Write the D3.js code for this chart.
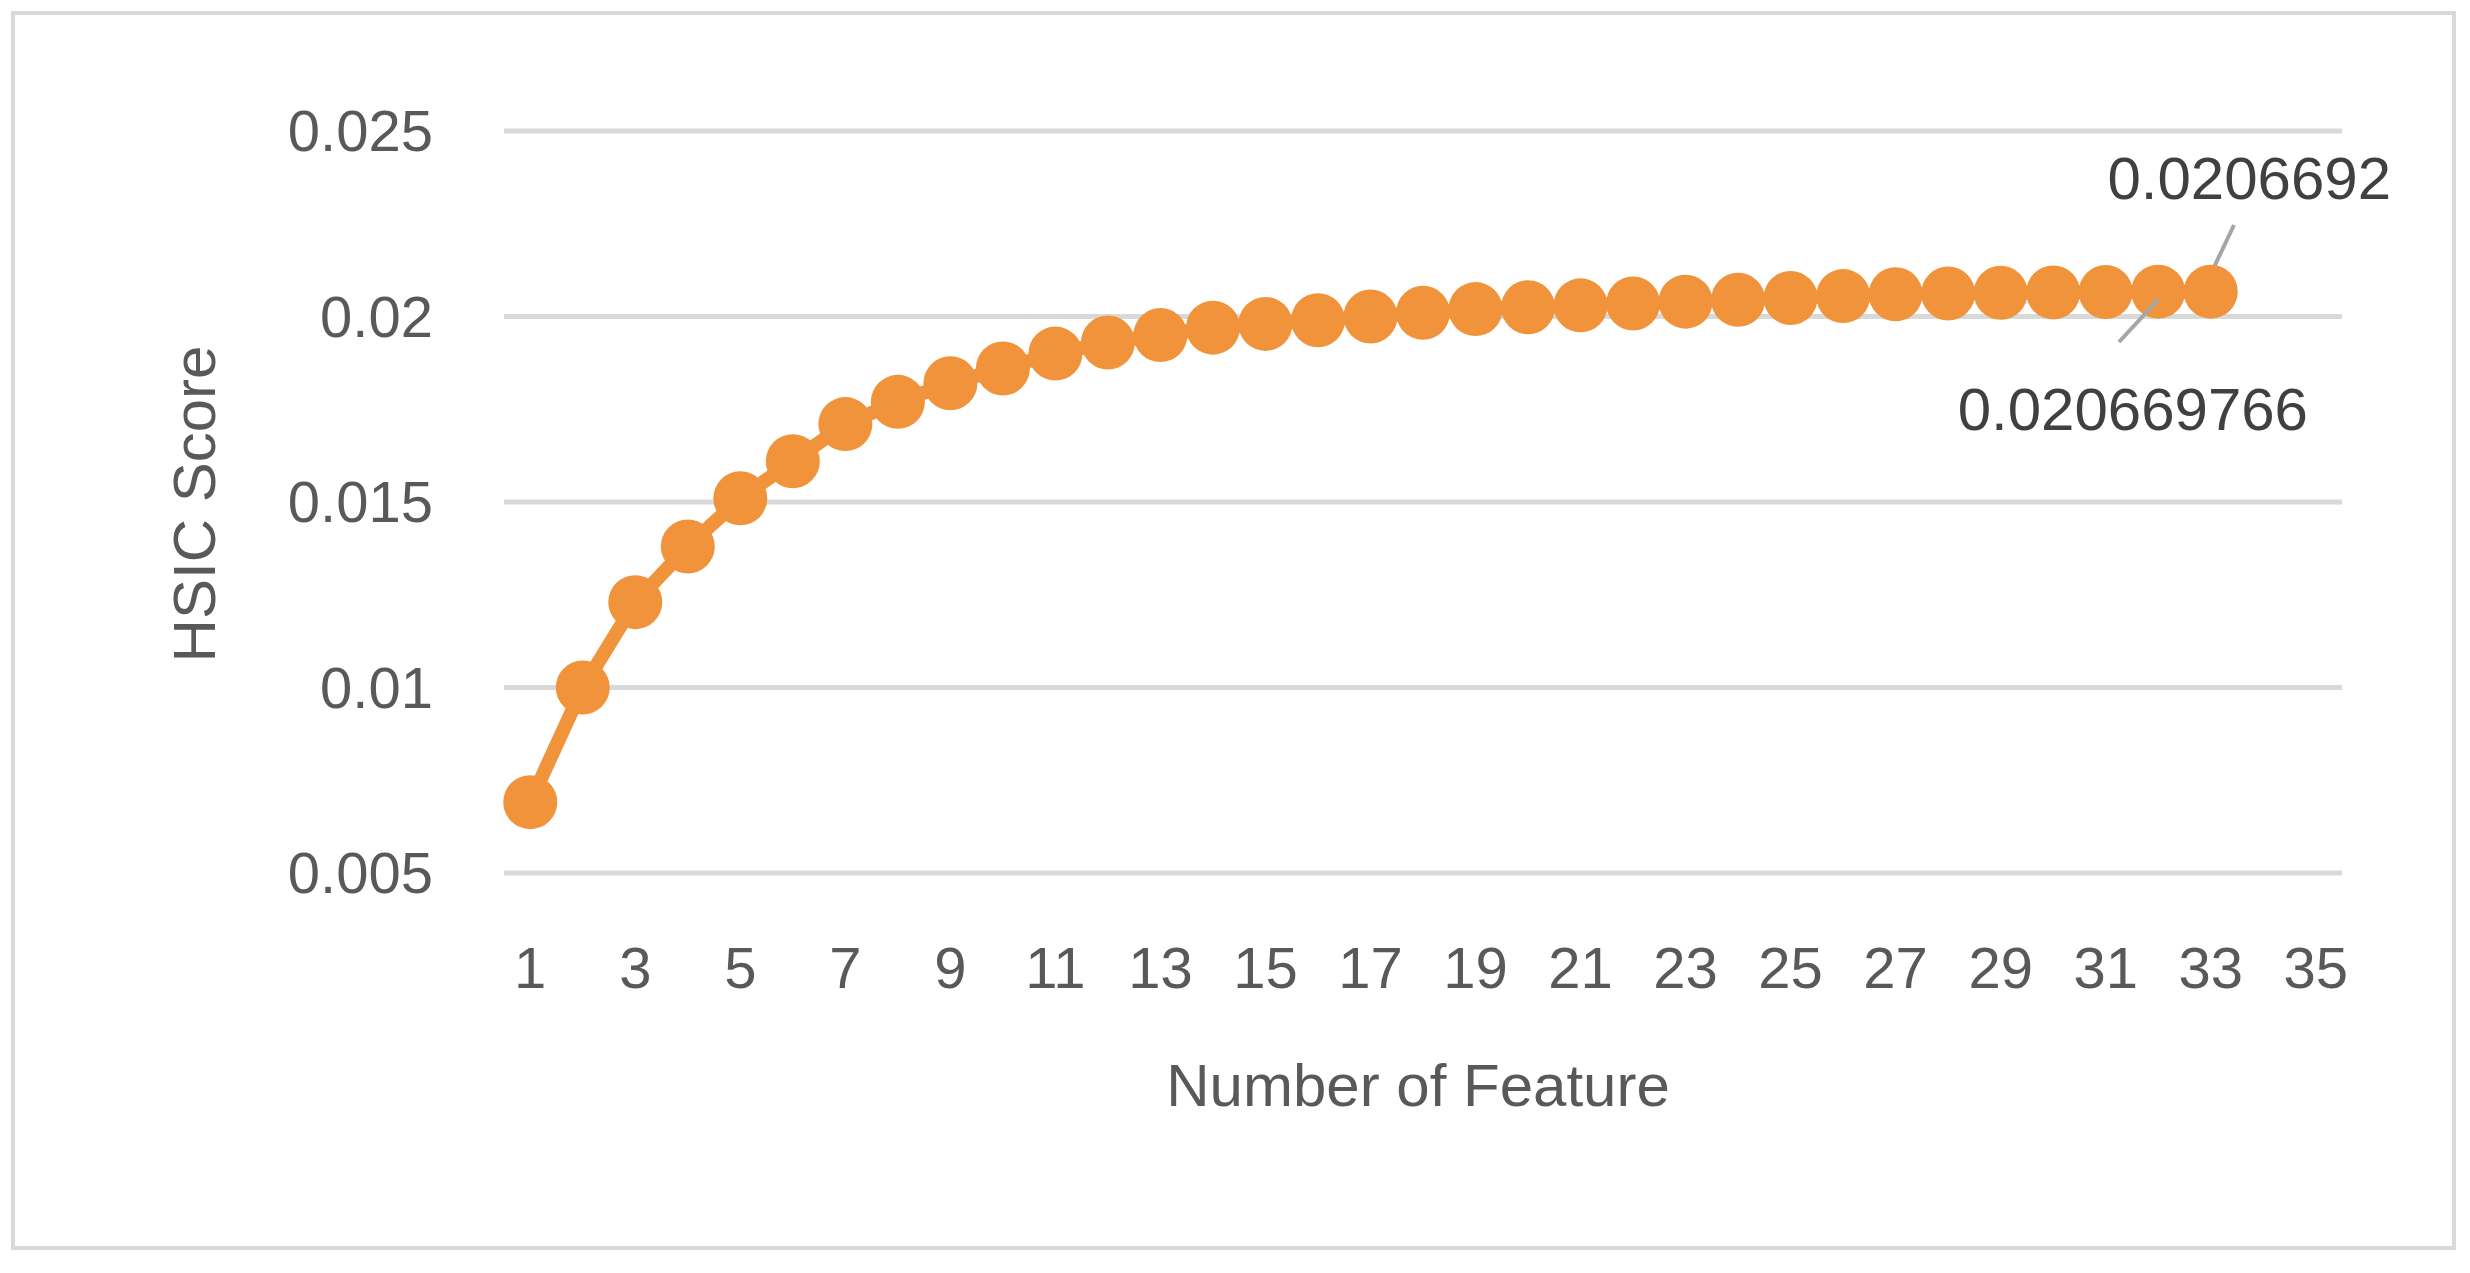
<!DOCTYPE html>
<html><head><meta charset="utf-8">
<script src="https://cdn.jsdelivr.net/npm/d3@7"></script>
<style>body{margin:0;background:#fff}svg{display:block}text{font-family:"Liberation Sans Narrow","Liberation Sans",Arial,sans-serif;fill:#595959}</style>
</head><body><div id="chart"></div>
<script>
// chart data
const features = d3.range(1, 36);
const scores = [0.00691, 0.0100, 0.0123, 0.0138, 0.0151, 0.0161, 0.0171, 0.0177, 0.0182, 0.0186,
  0.0190, 0.0193, 0.0195, 0.0197, 0.0198, 0.0199, 0.0200, 0.0201, 0.0202, 0.02025,
  0.0203, 0.02035, 0.0204, 0.02045, 0.0205, 0.02055, 0.0206, 0.02062, 0.02064, 0.02065,
  0.02066, 0.020669766, 0.0206692];
const yTicks = [0.005, 0.01, 0.015, 0.02, 0.025];
const labels = [{ i: 32, text: "0.0206692" }, { i: 31, text: "0.020669766" }];

const W = 2470, H = 1273;
const svg = d3.select("#chart").append("svg").attr("width", W).attr("height", H);

svg.append("rect").attr("x", 13).attr("y", 13).attr("width", 2441).attr("height", 1235)
  .attr("fill", "none").attr("stroke", "#d9d9d9").attr("stroke-width", 4);

const x = d3.scaleBand().domain(features).range([504, 2342]);
const y = d3.scaleLinear().domain([0.005, 0.025]).range([873, 131]);
const cx = d => x(d) + x.bandwidth() / 2;

// gridlines
svg.selectAll(".grid").data(yTicks).enter().append("line")
  .attr("x1", 504).attr("x2", 2342).attr("y1", d => y(d)).attr("y2", d => y(d))
  .attr("stroke", "#d9d9d9").attr("stroke-width", 5);

// y tick labels
svg.selectAll(".ylab").data(yTicks).enter().append("text")
  .attr("x", 433).attr("y", d => y(d) + 20).attr("text-anchor", "end")
  .style("font-size", "58px").text(d => d);

// x tick labels
svg.selectAll(".xlab").data(features.filter(d => d % 2 === 1)).enter().append("text")
  .attr("x", d => cx(d)).attr("y", 988).attr("text-anchor", "middle")
  .style("font-size", "58px").text(d => d);

// axis titles
svg.append("text").attr("x", 1418).attr("y", 1106).attr("text-anchor", "middle")
  .style("font-size", "60px").text("Number of Feature");
svg.append("text").attr("transform", "translate(215,504) rotate(-90)").attr("text-anchor", "middle")
  .style("font-size", "60px").text("HSIC Score");

// line + markers
const color = "#F0933A";
svg.append("path").datum(scores)
  .attr("d", d3.line().x((d, i) => cx(features[i])).y(d => y(d)))
  .attr("fill", "none").attr("stroke", color).attr("stroke-width", 14);
svg.selectAll(".dot").data(scores).enter().append("circle")
  .attr("cx", (d, i) => cx(features[i])).attr("cy", d => y(d)).attr("r", 27).attr("fill", color);

// data labels with leader lines
const l0 = labels[0], l1 = labels[1];
svg.append("line").attr("x1", 2234).attr("y1", 225).attr("x2", cx(features[l0.i]) + 4).attr("y2", y(scores[l0.i]) - 26)
  .attr("stroke", "#a6a6a6").attr("stroke-width", 4);
svg.append("text").attr("x", 2391).attr("y", 199).attr("text-anchor", "end")
  .style("font-size", "60px").style("fill", "#404040").text(l0.text);
svg.append("line").attr("x1", 2119).attr("y1", 342).attr("x2", cx(features[l1.i])).attr("y2", y(scores[l1.i]) + 8)
  .attr("stroke", "#a6a6a6").attr("stroke-width", 4);
svg.append("text").attr("x", 2308).attr("y", 430).attr("text-anchor", "end")
  .style("font-size", "60px").style("fill", "#404040").text(l1.text);
</script></body></html>
